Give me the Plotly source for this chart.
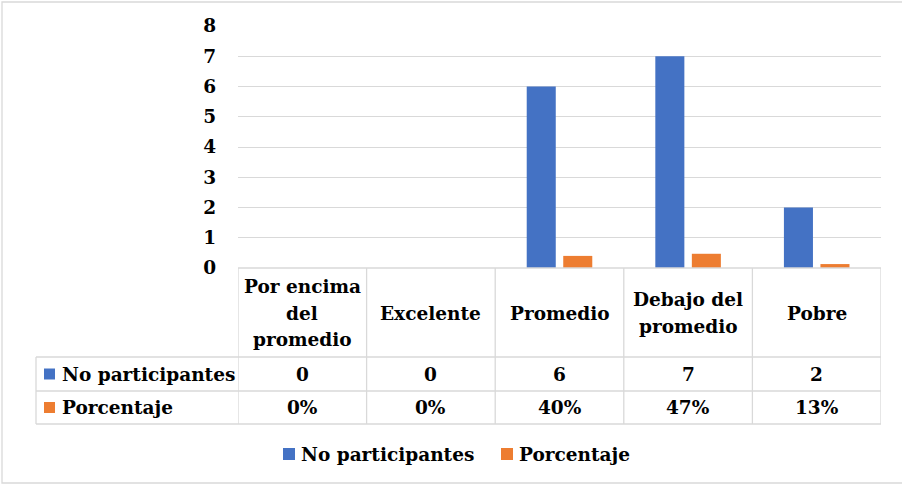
import plotly.graph_objects as go

# Chart data
categories = ["Por encima del promedio", "Excelente", "Promedio", "Debajo del promedio", "Pobre"]
category_lines = [["Por encima", "del", "promedio"], ["Excelente"], ["Promedio"],
                  ["Debajo del", "promedio"], ["Pobre"]]
participants = [0, 0, 6, 7, 2]
percentage = [0.0, 0.0, 0.40, 0.47, 0.13]
series_names = ["No participantes", "Porcentaje"]
y_ticks = [0, 1, 2, 3, 4, 5, 6, 7, 8]

BLUE = "#4472C4"
ORANGE = "#ED7D31"
GRID = "#D9D9D9"
FONT = "DejaVu Serif"
FS = 18.5
LINE_H = 26.5

W, H = 902, 485
L, R, T, B = 238, 881, 26, 268  # plot area in pixels


def px(xp):
    return (xp - L) / (R - L)


def py(yp):
    return (B - yp) / (B - T)


fig = go.Figure()
fig.add_trace(go.Bar(x=categories, y=participants, name=series_names[0],
                     marker=dict(color=BLUE, line=dict(width=0))))
fig.add_trace(go.Bar(x=categories, y=percentage, name=series_names[1],
                     marker=dict(color=ORANGE, line=dict(width=0))))

shapes = []
annotations = []

line_style = dict(color=GRID, width=1.3)

# Outer chart border (runs past the right edge of the page)
shapes.append(dict(type="rect", xref="paper", yref="paper",
                   x0=px(2), x1=px(910), y0=py(2), y1=py(483),
                   line=dict(color=GRID, width=1.3), layer="below"))

# Data table grid
row_lines = [(268, L), (357, 36), (391, 36), (424, 36)]
for yy, xstart in row_lines:
    shapes.append(dict(type="line", xref="paper", yref="paper",
                       x0=px(xstart), x1=1, y0=py(yy), y1=py(yy), line=line_style))
for i in range(len(categories) + 1):
    shapes.append(dict(type="line", xref="x", yref="paper",
                       x0=i - 0.5, x1=i - 0.5, y0=py(268), y1=py(424), line=line_style))
shapes.append(dict(type="line", xref="paper", yref="paper",
                   x0=px(36), x1=px(36), y0=py(357), y1=py(424), line=line_style))

bold = dict(family=FONT, size=FS, color="black", weight="bold")

# Header row: category names, one annotation per text line
for i, lines in enumerate(category_lines):
    n = len(lines)
    for k, txt in enumerate(lines):
        yc = 313 + (k - (n - 1) / 2) * LINE_H
        annotations.append(dict(x=i, y=py(yc), xref="x", yref="paper", text=txt,
                                showarrow=False, font=bold,
                                xanchor="center", yanchor="middle"))

# Value rows
for i, v in enumerate(participants):
    annotations.append(dict(x=i, y=py(374), xref="x", yref="paper", text=str(v),
                            showarrow=False, font=bold, xanchor="center", yanchor="middle"))
for i, v in enumerate(percentage):
    annotations.append(dict(x=i, y=py(407.5), xref="x", yref="paper", text=f"{round(v * 100)}%",
                            showarrow=False, font=bold, xanchor="center", yanchor="middle"))

# Row labels with colour keys
for name, color, yc in [(series_names[0], BLUE, 374), (series_names[1], ORANGE, 407.5)]:
    shapes.append(dict(type="rect", xref="paper", yref="paper",
                       x0=px(44), x1=px(55), y0=py(yc - 5.5), y1=py(yc + 5.5),
                       fillcolor=color, line=dict(width=0)))
    annotations.append(dict(x=px(60), y=py(yc), xref="paper", yref="paper", text=name,
                            showarrow=False, font=bold, xanchor="left", yanchor="middle"))

# Legend
for name, color, x0 in [(series_names[0], BLUE, 283), (series_names[1], ORANGE, 501)]:
    shapes.append(dict(type="rect", xref="paper", yref="paper",
                       x0=px(x0), x1=px(x0 + 12), y0=py(448), y1=py(460),
                       fillcolor=color, line=dict(width=0)))
    annotations.append(dict(x=px(x0 + 16), y=py(454), xref="paper", yref="paper", text=name,
                            showarrow=False, font=bold, xanchor="left", yanchor="middle"))

fig.update_layout(
    width=W, height=H,
    margin=dict(l=L, r=W - R, t=T, b=H - B, pad=0),
    paper_bgcolor="white", plot_bgcolor="white",
    barmode="group", bargap=0.432, bargroupgap=0.205,
    showlegend=False,
    font=dict(family=FONT, size=FS, color="black"),
    shapes=shapes, annotations=annotations,
    xaxis=dict(range=[-0.5, len(categories) - 0.5], showticklabels=False,
               showgrid=False, zeroline=False, showline=False, fixedrange=True),
    yaxis=dict(range=[0, 8], tickvals=y_ticks, showgrid=True, gridcolor=GRID, gridwidth=1.3,
               zeroline=False, showline=False, ticks="", ticklabelstandoff=21,
               tickfont=bold, fixedrange=True),
)

fig.write_html("out.html", config={"displayModeBar": False})
